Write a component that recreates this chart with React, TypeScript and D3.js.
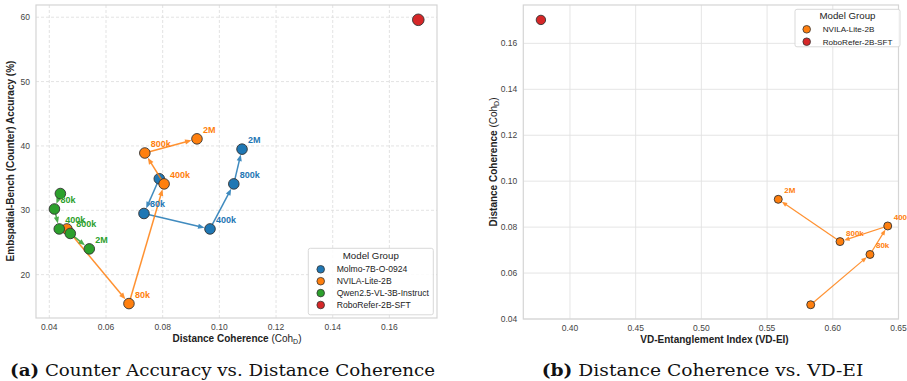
import React from "react";
import * as d3 from "d3";

// ---------- data ----------
const stageLabels = ["", "80k", "400k", "800k", "2M"];

const molmoCoh = [0.0788, 0.0734, 0.0967, 0.1051, 0.108];
const molmoAcc = [34.9, 29.5, 27.1, 34.1, 39.5];

const nvilaCoh = [0.0462, 0.0681, 0.0805, 0.0737, 0.0921];
const nvilaAcc = [27.1, 15.5, 34.1, 38.9, 41.1];
const nvilaVdei = [0.5832, 0.6283, 0.6418, 0.6055, 0.5585];

const qwenCoh = [0.0439, 0.0418, 0.0435, 0.0474, 0.0541];
const qwenAcc = [32.6, 30.2, 27.1, 26.4, 24.0];

const roboCoh = [0.1702];
const roboAcc = [59.6];
const roboVdei = [0.3779];

const leftXTicks = [0.04, 0.06, 0.08, 0.1, 0.12, 0.14, 0.16];
const leftYTicks = [20, 30, 40, 50, 60];
const rightXTicks = [0.4, 0.45, 0.5, 0.55, 0.6, 0.65];
const rightYTicks = [0.04, 0.06, 0.08, 0.1, 0.12, 0.14, 0.16];

const leftLegend = ["Molmo-7B-O-0924", "NVILA-Lite-2B", "Qwen2.5-VL-3B-Instruct", "RoboRefer-2B-SFT"];
const rightLegend = ["NVILA-Lite-2B", "RoboRefer-2B-SFT"];

const COL: Record<string, string> = {
  "Molmo-7B-O-0924": "#1f77b4",
  "NVILA-Lite-2B": "#ff7f0e",
  "Qwen2.5-VL-3B-Instruct": "#2ca02c",
  "RoboRefer-2B-SFT": "#d62728",
};

const SANS = "'Liberation Sans', Arial, Helvetica, sans-serif";
const SERIF = "'DejaVu Serif', 'Liberation Serif', serif";

// ---------- scales ----------
const xL = d3.scaleLinear().domain([0.0353, 0.1768]).range([36, 437]);
const yL = d3.scaleLinear().domain([13.26, 61.9]).range([318, 5]);
const xR = d3.scaleLinear().domain([0.3645, 0.65]).range([523.3, 898.5]);
const yR = d3.scaleLinear().domain([0.04, 0.1767]).range([319, 5]);

type Pt = [number, number];

function Trajectory({ pts, color, r, lw, keyp }: { pts: Pt[]; color: string; r: number; lw: number; keyp: string }) {
  const segs: JSX.Element[] = [];
  for (let i = 0; i < pts.length - 1; i++) {
    const [x0, y0] = pts[i];
    const [x1, y1] = pts[i + 1];
    const dx = x1 - x0, dy = y1 - y0;
    const len = Math.hypot(dx, dy);
    const ux = dx / len, uy = dy / len;
    const px = -uy, py = ux;
    const tipX = x1 - ux * (r + 0.3), tipY = y1 - uy * (r + 0.3);
    const L = lw > 1.3 ? 6.5 : 5.5, w = lw > 1.3 ? 2.6 : 2.2;
    const bx = tipX - ux * L, by = tipY - uy * L;
    segs.push(
      <g key={keyp + "s" + i} opacity={0.85}>
        <line x1={x0} y1={y0} x2={bx + ux * 1} y2={by + uy * 1} stroke={color} strokeWidth={lw} />
        <path d={`M${tipX},${tipY}L${bx + px * w},${by + py * w}L${bx - px * w},${by - py * w}Z`} fill={color} />
      </g>
    );
  }
  return <g>{segs}</g>;
}

function Markers({ pts, color, r, keyp }: { pts: Pt[]; color: string; r: number; keyp: string }) {
  return (
    <g>
      {pts.map((p, i) => (
        <circle key={keyp + i} cx={p[0]} cy={p[1]} r={r} fill={color} stroke="#333" strokeWidth={0.9} />
      ))}
    </g>
  );
}

function Labels({ pts, color, fs, keyp }: { pts: Pt[]; color: string; fs: number; keyp: string }) {
  return (
    <g>
      {pts.map((p, i) =>
        stageLabels[i] ? (
          <text key={keyp + i} x={p[0] + 6} y={p[1] - 6} fill={color} fontSize={fs} fontWeight="bold" fontFamily={SANS}>
            {stageLabels[i]}
          </text>
        ) : null
      )}
    </g>
  );
}

function CohLabel({ x, y, rotate, fs }: { x: number; y: number; rotate?: boolean; fs: number }) {
  return (
    <text
      x={x}
      y={y}
      textAnchor="middle"
      fontFamily={SANS}
      fontSize={fs}
      fill="#222"
      transform={rotate ? `rotate(-90 ${x} ${y})` : undefined}
    >
      <tspan fontWeight="bold">Distance Coherence</tspan>
      <tspan> (Coh</tspan>
      <tspan fontSize={fs * 0.7} dy={fs * 0.2}>D</tspan>
      <tspan dy={-fs * 0.2}>)</tspan>
    </text>
  );
}

export default function App() {
  const molmo: Pt[] = molmoCoh.map((c, i) => [xL(c), yL(molmoAcc[i])]);
  const nvila: Pt[] = nvilaCoh.map((c, i) => [xL(c), yL(nvilaAcc[i])]);
  const qwen: Pt[] = qwenCoh.map((c, i) => [xL(c), yL(qwenAcc[i])]);
  const roboL: Pt[] = roboCoh.map((c, i) => [xL(c), yL(roboAcc[i])]);
  const nvilaR: Pt[] = nvilaVdei.map((v, i) => [xR(v), yR(nvilaCoh[i])]);
  const roboR: Pt[] = roboVdei.map((v, i) => [xR(v), yR(roboCoh[i])]);

  const [lx0, lx1] = xL.range();
  const [ly1, ly0] = yL.range();
  const [rx0, rx1] = xR.range();
  const [ry1, ry0] = yR.range();

  const rL = 5.3;
  const rR = 4;

  return (
    <svg width={907} height={381} viewBox="0 0 907 381" style={{ position: "absolute", left: 0, top: 0, background: "#fff" }}>
      <rect x={0} y={0} width={907} height={381} fill="#fff" />
      {/* ---------------- LEFT PANEL ---------------- */}
      <g>
        {leftXTicks.map((t) => (
          <line key={"lgx" + t} x1={xL(t)} x2={xL(t)} y1={ly0} y2={ly1} stroke="#dcdcdc" strokeWidth={0.8} strokeDasharray="3,2" />
        ))}
        {leftYTicks.map((t) => (
          <line key={"lgy" + t} x1={lx0} x2={lx1} y1={yL(t)} y2={yL(t)} stroke="#dcdcdc" strokeWidth={0.8} strokeDasharray="3,2" />
        ))}
        <rect x={lx0} y={ly0} width={lx1 - lx0} height={ly1 - ly0} fill="none" stroke="#d5d5d5" strokeWidth={1.2} />
        {leftXTicks.map((t) => (
          <text key={"ltx" + t} x={xL(t)} y={330} textAnchor="middle" fontSize={8.5} fill="#444" fontFamily={SANS}>
            {d3.format(".2f")(t)}
          </text>
        ))}
        {leftYTicks.map((t) => (
          <text key={"lty" + t} x={30} y={yL(t) + 3} textAnchor="end" fontSize={8.5} fill="#444" fontFamily={SANS}>
            {t}
          </text>
        ))}
        <CohLabel x={237} y={342} fs={10} />
        <text
          x={13.5}
          y={161}
          textAnchor="middle"
          fontFamily={SANS}
          fontSize={10}
          fontWeight="bold"
          fill="#222"
          transform="rotate(-90 13.5 161)"
        >
          Embspatial-Bench (Counter) Accuracy (%)
        </text>

        <Trajectory pts={molmo} color={COL["Molmo-7B-O-0924"]} r={rL} lw={1.5} keyp="m" />
        <Markers pts={molmo} color={COL["Molmo-7B-O-0924"]} r={rL} keyp="mm" />
        <Trajectory pts={nvila} color={COL["NVILA-Lite-2B"]} r={rL} lw={1.5} keyp="n" />
        <Markers pts={nvila} color={COL["NVILA-Lite-2B"]} r={rL} keyp="nm" />
        <Trajectory pts={qwen} color={COL["Qwen2.5-VL-3B-Instruct"]} r={rL} lw={1.5} keyp="q" />
        <Markers pts={qwen} color={COL["Qwen2.5-VL-3B-Instruct"]} r={rL} keyp="qm" />
        <Markers pts={roboL} color={COL["RoboRefer-2B-SFT"]} r={5.8} keyp="rm" />
        <Labels pts={molmo} color={COL["Molmo-7B-O-0924"]} fs={9} keyp="ml" />
        <Labels pts={nvila} color={COL["NVILA-Lite-2B"]} fs={9} keyp="nl" />
        <Labels pts={qwen} color={COL["Qwen2.5-VL-3B-Instruct"]} fs={9} keyp="ql" />

        {/* legend */}
        <rect x={308.3} y={248.3} width={125} height={66.5} fill="#fff" fillOpacity={0.85} stroke="#d5d5d5" strokeWidth={0.9} rx={2} />
        <text x={370.8} y={259} textAnchor="middle" fontSize={9.7} fill="#222" fontFamily={SANS}>
          Model Group
        </text>
        {leftLegend.map((g, i) => (
          <g key={"ll" + g}>
            <circle cx={320.7} cy={269.3 + i * 11.9} r={3.8} fill={COL[g]} stroke="#333" strokeWidth={0.8} />
            <text x={336.7} y={269.3 + i * 11.9 + 3} fontSize={8.6} fill="#222" fontFamily={SANS}>
              {g}
            </text>
          </g>
        ))}

        <text
          x={10}
          y={376}
          fontFamily={SERIF}
          fontSize={17}
          fill="#111"
          textLength={425}
          lengthAdjust="spacingAndGlyphs"
        >
          <tspan fontWeight="bold">(a)</tspan>
          <tspan> Counter Accuracy vs. Distance Coherence</tspan>
        </text>
      </g>

      {/* ---------------- RIGHT PANEL ---------------- */}
      <g>
        {rightXTicks.map((t) => (
          <line key={"rgx" + t} x1={xR(t)} x2={xR(t)} y1={ry0} y2={ry1} stroke="#e2e2e2" strokeWidth={0.9} />
        ))}
        {rightYTicks.map((t) => (
          <line key={"rgy" + t} x1={rx0} x2={rx1} y1={yR(t)} y2={yR(t)} stroke="#e2e2e2" strokeWidth={0.9} />
        ))}
        <rect x={rx0} y={ry0} width={rx1 - rx0} height={ry1 - ry0} fill="none" stroke="#d5d5d5" strokeWidth={1.2} />
        {rightXTicks.map((t) => (
          <text key={"rtx" + t} x={xR(t)} y={331} textAnchor="middle" fontSize={8.5} fill="#444" fontFamily={SANS}>
            {d3.format(".2f")(t)}
          </text>
        ))}
        {rightYTicks.map((t) => (
          <text key={"rty" + t} x={517.3} y={yR(t) + 3} textAnchor="end" fontSize={8.5} fill="#444" fontFamily={SANS}>
            {d3.format(".2f")(t)}
          </text>
        ))}
        <text x={714.5} y={343} textAnchor="middle" fontFamily={SANS} fontSize={10} fontWeight="bold" fill="#222">
          VD-Entanglement Index (VD-EI)
        </text>
        <CohLabel x={496.5} y={162} rotate fs={10} />

        <Trajectory pts={nvilaR} color={COL["NVILA-Lite-2B"]} r={rR} lw={1.2} keyp="nr" />
        <Markers pts={nvilaR} color={COL["NVILA-Lite-2B"]} r={rR} keyp="nrm" />
        <Markers pts={roboR} color={COL["RoboRefer-2B-SFT"]} r={4.7} keyp="rrm" />
        <Labels pts={nvilaR} color={COL["NVILA-Lite-2B"]} fs={8} keyp="nrl" />

        <rect x={795} y={9.3} width={105} height={37.5} fill="#fff" fillOpacity={0.85} stroke="#d5d5d5" strokeWidth={0.9} rx={2} />
        <text x={847.5} y={19} textAnchor="middle" fontSize={9.7} fill="#222" fontFamily={SANS}>
          Model Group
        </text>
        {rightLegend.map((g, i) => (
          <g key={"rl" + g}>
            <circle cx={806.7} cy={29.3 + i * 12.4} r={3.8} fill={COL[g]} stroke="#333" strokeWidth={0.8} />
            <text x={822.7} y={29.3 + i * 12.4 + 3} fontSize={8.1} fill="#222" fontFamily={SANS}>
              {g}
            </text>
          </g>
        ))}

        <text
          x={541.7}
          y={376}
          fontFamily={SERIF}
          fontSize={17}
          fill="#111"
          textLength={321.6}
          lengthAdjust="spacingAndGlyphs"
        >
          <tspan fontWeight="bold">(b)</tspan>
          <tspan> Distance Coherence vs. VD-EI</tspan>
        </text>
      </g>
    </svg>
  );
}
